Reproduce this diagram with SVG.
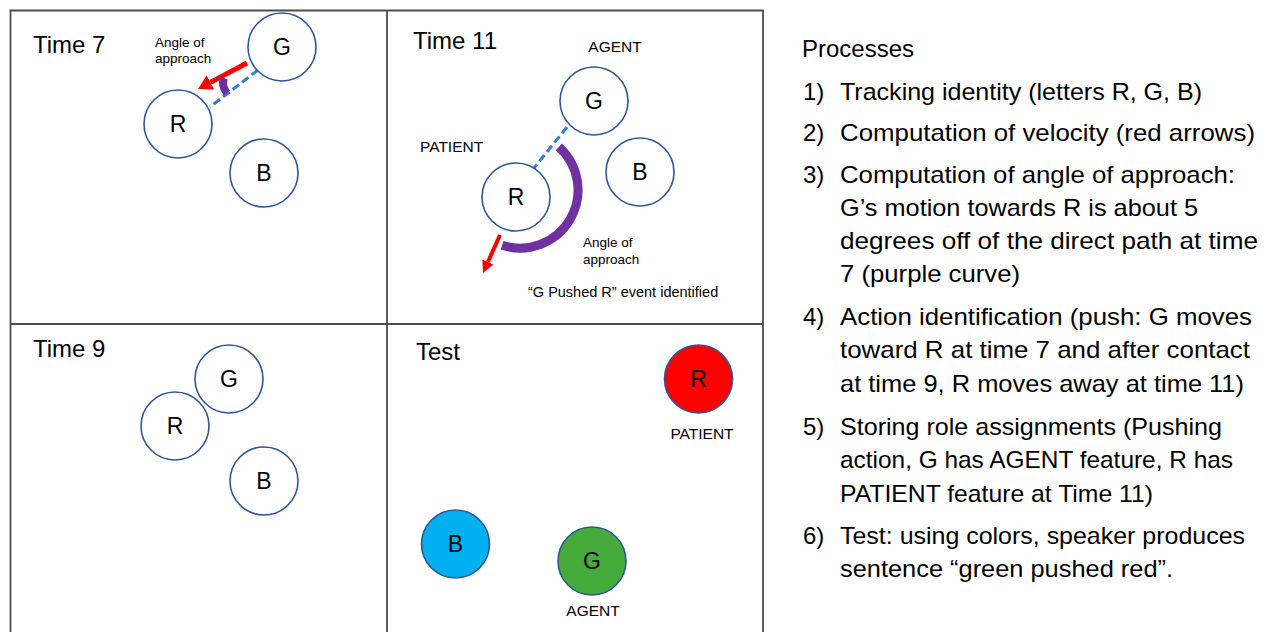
<svg xmlns="http://www.w3.org/2000/svg" width="1267" height="632" viewBox="0 0 1267 632">
<defs>
<style>
.frame{fill:none;stroke:#4d4d4d;stroke-width:1.8}
.node{fill:#fff;stroke:#2F5597;stroke-width:1.6}
.lbl{font-family:"Liberation Sans",Arial,sans-serif;fill:#000}
.nl{font-size:23px;text-anchor:middle}
.title{font-size:24px}
.role{font-size:15.5px}
.small{font-size:13.5px}
.proc{font-size:24px;font-family:"Liberation Sans",Arial,sans-serif;fill:#000}
.dash{stroke:#2F7FD3;stroke-width:3;stroke-dasharray:8 4;fill:none}
.purple{stroke:#7030A0;fill:none}
.red{stroke:#FF0000;fill:none}
</style>
<marker id="headA" markerUnits="userSpaceOnUse" viewBox="0 0 14 16" markerWidth="14" markerHeight="16" refX="0" refY="8" orient="auto">
<path d="M0,0 L14,8 L0,16 z" fill="#FF0000"/>
</marker>
<marker id="headB" markerUnits="userSpaceOnUse" viewBox="0 0 12 12" markerWidth="12" markerHeight="12" refX="0" refY="6" orient="auto">
<path d="M0,0 L12,6 L0,12 z" fill="#FF0000"/>
</marker>
</defs>
<rect width="1267" height="632" fill="#fff"/>
<g id="frame">
<path class="frame" d="M10.5,640 L10.5,10.5 L763,10.5 L763,640"/>
<line class="frame" x1="387" y1="10.5" x2="387" y2="640"/>
<line class="frame" x1="10.5" y1="324" x2="763" y2="324"/>
</g>
<g id="panel-titles" class="lbl title">
<text x="33" y="53">Time 7</text>
<text x="413" y="49">Time 11</text>
<text x="33" y="357">Time 9</text>
<text x="416" y="360">Test</text>
</g>
<g id="connectors">
<line class="dash" x1="258" y1="70" x2="210" y2="107"/>
<line class="red" stroke-width="5" x1="247" y1="63" x2="210.4" y2="82.4" marker-end="url(#headA)"/>
<path class="purple" stroke-width="8" d="M224,78 Q221,86 227,93"/>
<line class="dash" x1="567" y1="127" x2="534" y2="168"/>
<path class="purple" stroke-width="9" d="M558.8,146.9 A58,58 0 0 1 502.1,245.2"/>
<line class="red" stroke-width="4" x1="500" y1="235" x2="487.9" y2="262" marker-end="url(#headB)"/>
</g>
<g id="t7-G"><circle class="node" cx="282" cy="47" r="34"/><text class="lbl nl" x="282" y="55">G</text></g>
<g id="t7-R"><circle class="node" cx="178" cy="124" r="34"/><text class="lbl nl" x="178" y="132">R</text></g>
<g id="t7-B"><circle class="node" cx="264" cy="173" r="34"/><text class="lbl nl" x="264" y="181">B</text></g>
<g id="t7-angle-label" class="lbl small"><text x="155" y="47">Angle of</text><text x="155" y="63">approach</text></g>
<g id="t11-G"><circle class="node" cx="594" cy="101" r="34"/><text class="lbl nl" x="594" y="109">G</text></g>
<g id="t11-R"><circle class="node" cx="516" cy="197" r="34"/><text class="lbl nl" x="516" y="205">R</text></g>
<g id="t11-B"><circle class="node" cx="640" cy="172" r="34"/><text class="lbl nl" x="640" y="180">B</text></g>
<g id="t11-labels" class="lbl">
<text class="role" x="615" y="52" text-anchor="middle">AGENT</text>
<text class="role" x="420" y="152">PATIENT</text>
<text class="small" x="583" y="247">Angle of</text>
<text class="small" x="583" y="264">approach</text>
<text x="528" y="297" font-size="14.5">“G Pushed R” event identified</text>
</g>
<g id="t9-G"><circle class="node" cx="229" cy="379" r="34"/><text class="lbl nl" x="229" y="387">G</text></g>
<g id="t9-R"><circle class="node" cx="175" cy="426" r="34"/><text class="lbl nl" x="175" y="434">R</text></g>
<g id="t9-B"><circle class="node" cx="264" cy="481" r="34"/><text class="lbl nl" x="264" y="489">B</text></g>
<g id="test-R"><circle class="node" style="fill:#FF0000" cx="698.5" cy="379" r="34"/><text class="lbl nl" x="698.5" y="387">R</text><text class="lbl role" x="702" y="439" text-anchor="middle">PATIENT</text></g>
<g id="test-B"><circle class="node" style="fill:#00B0F0" cx="455.5" cy="544" r="34"/><text class="lbl nl" x="455.5" y="552">B</text></g>
<g id="test-G"><circle class="node" style="fill:#45AC3C" cx="592" cy="561" r="34"/><text class="lbl nl" x="592" y="569">G</text><text class="lbl role" x="593" y="616" text-anchor="middle">AGENT</text></g>
<g id="processes" class="proc">
<text x="802" y="57">Processes</text>
<text x="803" y="100">1)</text>
<text x="840" y="100" textLength="362" lengthAdjust="spacingAndGlyphs">Tracking identity (letters R, G, B)</text>
<text x="803" y="141">2)</text>
<text x="840" y="141" textLength="415" lengthAdjust="spacingAndGlyphs">Computation of velocity (red arrows)</text>
<text x="803" y="183">3)</text>
<text x="840" y="183" textLength="395" lengthAdjust="spacingAndGlyphs">Computation of angle of approach:</text>
<text x="840" y="216" textLength="358" lengthAdjust="spacingAndGlyphs">G’s motion towards R is about 5</text>
<text x="840" y="249" textLength="418" lengthAdjust="spacingAndGlyphs">degrees off of the direct path at time</text>
<text x="840" y="282" textLength="180" lengthAdjust="spacingAndGlyphs">7 (purple curve)</text>
<text x="803" y="325">4)</text>
<text x="840" y="325" textLength="412" lengthAdjust="spacingAndGlyphs">Action identification (push: G moves</text>
<text x="840" y="358" textLength="410" lengthAdjust="spacingAndGlyphs">toward R at time 7 and after contact</text>
<text x="840" y="392" textLength="404" lengthAdjust="spacingAndGlyphs">at time 9, R moves away at time 11)</text>
<text x="803" y="435">5)</text>
<text x="840" y="435" textLength="382" lengthAdjust="spacingAndGlyphs">Storing role assignments (Pushing</text>
<text x="840" y="468" textLength="393" lengthAdjust="spacingAndGlyphs">action, G has AGENT feature, R has</text>
<text x="840" y="502" textLength="313" lengthAdjust="spacingAndGlyphs">PATIENT feature at Time 11)</text>
<text x="803" y="544">6)</text>
<text x="840" y="544" textLength="405" lengthAdjust="spacingAndGlyphs">Test: using colors, speaker produces</text>
<text x="840" y="577" textLength="333" lengthAdjust="spacingAndGlyphs">sentence “green pushed red”.</text>
</g>
</svg>
